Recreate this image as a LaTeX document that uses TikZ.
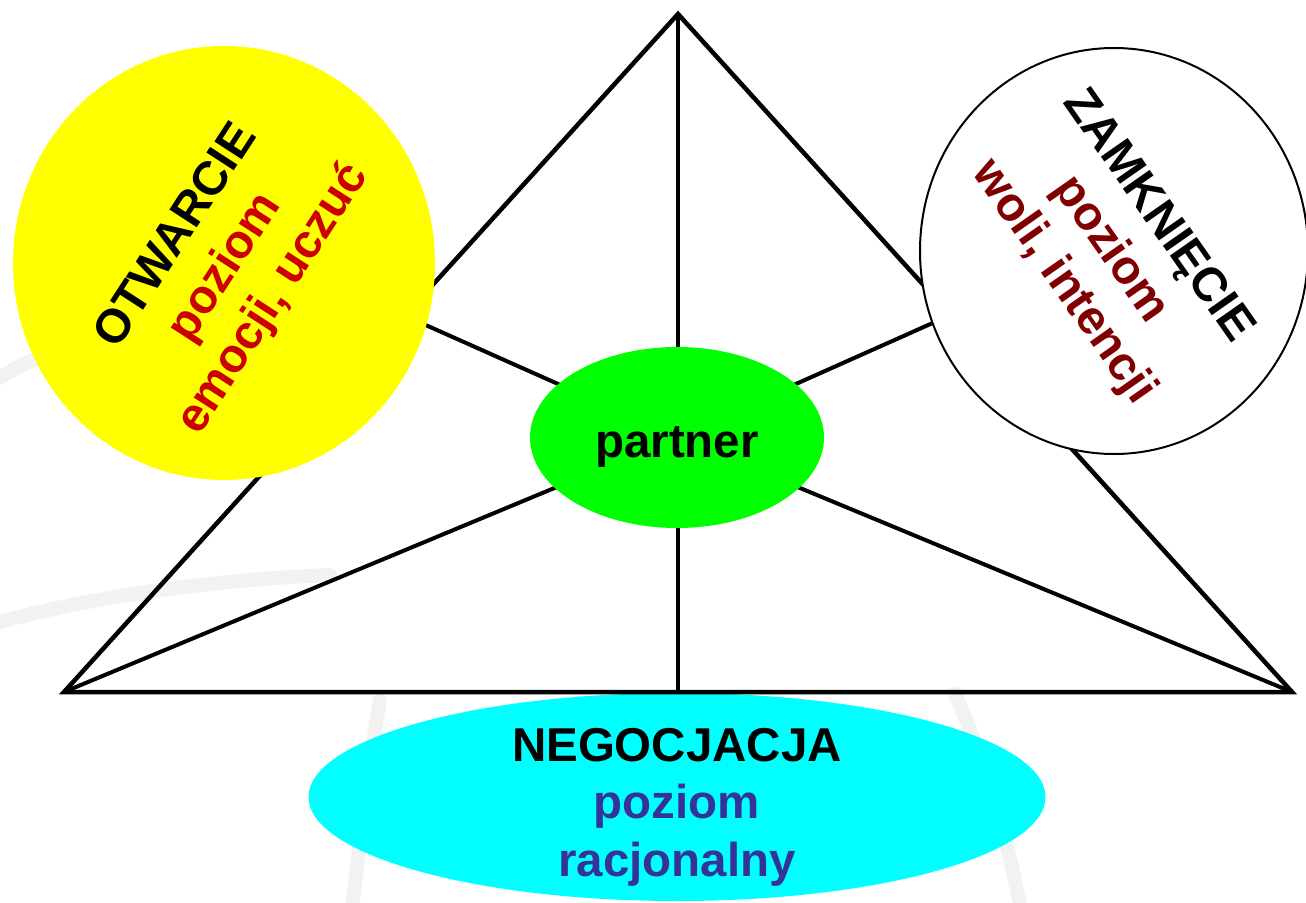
\documentclass[tikz,border=0pt]{standalone}
\usepackage{fontspec}
\setmainfont{Liberation Sans}
\usetikzlibrary{shapes.geometric}
\definecolor{cyanfill}{RGB}{0,255,255}
\definecolor{yellowfill}{RGB}{255,255,0}
\definecolor{greenfill}{RGB}{0,255,0}
\definecolor{redtext}{RGB}{204,0,0}
\definecolor{maroontext}{RGB}{128,0,0}
\definecolor{bluetext}{RGB}{51,51,153}
\definecolor{faint}{RGB}{242,242,242}
\begin{document}
\begin{tikzpicture}[x=1pt,y=-1pt,
  bigtext/.style={font=\fontsize{47.5}{57.5}\selectfont\bfseries, align=center, inner sep=0pt},
  blob/.style={ellipse, inner sep=0pt, outer sep=0pt, draw=none},
  frame/.style={line width=4.5pt, line join=miter, line cap=butt},
  spoke/.style={line width=4pt},
  bgstroke/.style={faint, line width=14pt, line cap=round}]
\useasboundingbox (0,0) rectangle (1306,902);
\clip (0,0) rectangle (1306,902);
\fill[white] (0,0) rectangle (1306,902);
% faint background strokes
\draw[bgstroke] (0,378) .. controls (15,368) and (30,360) .. (60,350);
\draw[bgstroke] (0,622) .. controls (80,600) and (200,580) .. (330,575);
\draw[bgstroke] (380,700) .. controls (368,770) and (360,840) .. (352,910);
\draw[bgstroke] (955,694) .. controls (985,760) and (1005,830) .. (1020,905);
% bottom ellipse
\node[blob, fill=cyanfill, minimum width=737pt, minimum height=208pt] (neg) at (677,797) {};
% coordinates
\coordinate (apex) at (678,14);
\coordinate (bl) at (64,692);
\coordinate (br) at (1292,692);
\coordinate (base) at (678,692);
\coordinate (ctr) at (677,437);
\coordinate (ul) at (300,269);
\coordinate (ur) at (1056,268);
% triangle and spokes
\draw[frame] (apex) -- (bl) -- (br) -- cycle;
\draw[spoke] (apex) -- (base);
\draw[spoke] (ctr) -- (bl);
\draw[spoke] (ctr) -- (br);
\draw[spoke] (ctr) -- (ul);
\draw[spoke] (ctr) -- (ur);
% circles
\node[blob, fill=yellowfill, minimum width=422pt, minimum height=434pt] (open) at (224,263) {};
\node[blob, fill=white, draw=black, line width=2pt, minimum width=388pt, minimum height=406pt] (close) at (1114,251) {};
\node[blob, fill=greenfill, minimum width=294pt, minimum height=181pt] (partner) at (677,437.5) {};
% texts
\node[bigtext, rotate=57] (opentext) at (226,268) {OTWARCIE\\{\color{redtext}poziom}\\{\color{redtext}emocji, uczuć}};
\node[bigtext, rotate=-55] (closetext) at (1110,250) {ZAMKNIĘCIE\\{\color{maroontext}poziom}\\{\color{maroontext}woli, intencji}};
\node[bigtext, anchor=base] (partnertext) at (677,457) {partner};
\node[bigtext] (negtext) at (677,807) {NEGOCJACJA\\{\color{bluetext}poziom}\\{\color{bluetext}racjonalny}};
\end{tikzpicture}
\end{document}
